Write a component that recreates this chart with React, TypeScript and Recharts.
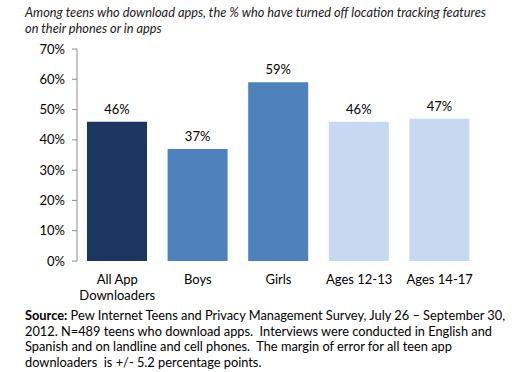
import React from "react";
import { BarChart, Bar, XAxis, YAxis, Cell, LabelList } from "recharts";

const categories = ["All App|Downloaders", "Boys", "Girls", "Ages 12-13", "Ages 14-17"];
const values = [46, 37, 59, 46, 47];
const barColors = ["#1B375F", "#4F81BD", "#4F81BD", "#C6D9F1", "#C6D9F1"];
const yTicks = [0, 10, 20, 30, 40, 50, 60, 70];
const boundaryTicks = [0, 1, 2, 3, 4, 5];

const data = categories.map((name, i) => ({ name, value: values[i], pos: i + 0.5 }));

const FONT = "Lato, 'Open Sans', sans-serif";
const AXIS = "#8C8C8C";

// eslint-disable-next-line @typescript-eslint/no-explicit-any
function CategoryTick({ x, y, payload }: any) {
  const lines = String(payload.value).split("|");
  return (
    <text x={x} y={y} textAnchor="middle" fontFamily={FONT} fontSize={13} fill="#000">
      {lines.map((l, i) => (
        <tspan key={i} x={x} dy={i === 0 ? 15 : 16}>
          {l}
        </tspan>
      ))}
    </text>
  );
}

export default function App() {
  return (
    <div
      style={{
        position: "fixed",
        left: 0,
        top: 0,
        width: 527,
        height: 372,
        background: "#fff",
        fontFamily: FONT,
        color: "#000",
      }}
    >
      <div
        style={{
          position: "absolute",
          left: 25,
          top: 4,
          fontSize: 12.8,
          lineHeight: "16px",
          fontStyle: "italic",
          color: "#1a1a1a",
          whiteSpace: "nowrap",
        }}
      >
        Among teens who download apps, the % who have turned off location tracking features
        <br />
        on their phones or in apps
      </div>
      <div style={{ position: "absolute", left: 0, top: 0 }}>
        <BarChart
          width={527}
          height={310}
          data={data}
          margin={{ top: 49, right: 47, bottom: 10, left: 0 }}
        >
          <XAxis
            xAxisId="edge"
            type="number"
            dataKey="pos"
            domain={[0, 5]}
            ticks={boundaryTicks}
            tick={false}
            tickSize={5}
            height={0}
            axisLine={{ stroke: AXIS }}
            tickLine={{ stroke: AXIS }}
          />
          <XAxis
            xAxisId="cat"
            dataKey="name"
            height={39}
            axisLine={false}
            tickLine={false}
            tick={<CategoryTick />}
            interval={0}
          />
          <YAxis
            domain={[0, 70]}
            ticks={yTicks}
            tickFormatter={(v: number) => `${v}%`}
            width={77}
            tickSize={5}
            tickMargin={7}
            axisLine={{ stroke: AXIS }}
            tickLine={{ stroke: AXIS }}
            tick={{ fontSize: 13, fill: "#000", fontFamily: FONT }}
          />
          <Bar dataKey="value" xAxisId="cat" barSize={60} isAnimationActive={false}>
            {data.map((d, i) => (
              <Cell key={d.name} fill={barColors[i]} />
            ))}
            <LabelList
              dataKey="value"
              position="top"
              offset={8}
              formatter={(v: number) => `${v}%`}
              style={{ fontSize: 13, fill: "#000", fontFamily: FONT }}
            />
          </Bar>
        </BarChart>
      </div>
      <div
        style={{
          position: "absolute",
          left: 25,
          top: 308,
          fontSize: 12.8,
          lineHeight: "15.5px",
          whiteSpace: "nowrap",
        }}
      >
        <b>Source:</b> Pew Internet Teens and Privacy Management Survey, July 26 – September 30,
        <br />
        2012. N=489 teens who download apps.&nbsp; Interviews were conducted in English and
        <br />
        Spanish and on landline and cell phones.&nbsp; The margin of error for all teen app
        <br />
        downloaders&nbsp; is +/- 5.2 percentage points.
      </div>
    </div>
  );
}
